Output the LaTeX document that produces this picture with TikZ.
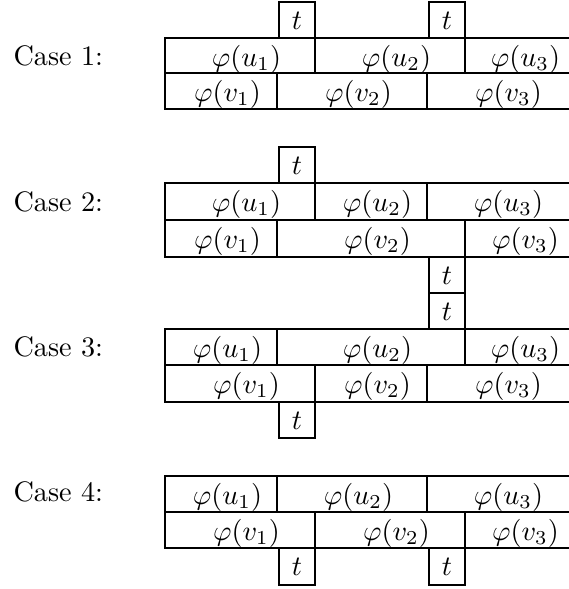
\documentclass[tikz,border=0pt]{standalone}
\tikzset{
  cellbox/.style={draw=black, line width=0.7pt},
  celltext/.style={anchor=base, inner sep=0pt},
  caselabel/.style={anchor=base west, inner sep=0pt}
}
% \cellbox{name}{x1}{y1}{x2}{y2}{text}
\newcommand{\mycell}[6]{%
  \draw[cellbox] (#2,#3) rectangle (#4,#5);
  \node[celltext] (#1) at ({(#2+#4)/2+6.5},{#3+28}) {$#6$};
}
\newcommand{\mytbox}[4]{%
  \draw[cellbox] (#2,#3) rectangle ({#2+36},#4);
  \node[celltext] (#1) at ({#2+18},{#3+27}) {$t$};
}
\begin{document}
\begin{tikzpicture}[x=0.3546pt, y=-0.3546pt]
\useasboundingbox (0,0) rectangle (569,589);
\clip (0,0) rectangle (569,589);
% Case 1
\node[caselabel] (c1) at (13,65) {Case 1:};
\mytbox{t1a}{279}{2}{38}
\mytbox{t1b}{429}{2}{38}
\mycell{u11}{165}{38}{315}{73}{\varphi(u_1)}
\mycell{u12}{315}{38}{465}{73}{\varphi(u_2)}
\mycell{u13}{465}{38}{573}{73}{\varphi(u_3)}
\mycell{v11}{165}{73}{277}{109}{\varphi(v_1)}
\mycell{v12}{277}{73}{427}{109}{\varphi(v_2)}
\mycell{v13}{427}{73}{577}{109}{\varphi(v_3)}
% Case 2
\node[caselabel] (c2) at (13,211) {Case 2:};
\mytbox{t2a}{279}{147}{183}
\mycell{u21}{165}{183}{315}{220}{\varphi(u_1)}
\mycell{u22}{315}{183}{427}{220}{\varphi(u_2)}
\mycell{u23}{427}{183}{577}{220}{\varphi(u_3)}
\mycell{v21}{165}{220}{277}{257}{\varphi(v_1)}
\mycell{v22}{277}{220}{465}{257}{\varphi(v_2)}
\mycell{v23}{465}{220}{573}{257}{\varphi(v_3)}
\mytbox{t2b}{429}{257}{293}
% Case 3
\node[caselabel] (c3) at (13,356) {Case 3:};
\mytbox{t3a}{429}{293}{329}
\mycell{u31}{165}{329}{277}{365}{\varphi(u_1)}
\mycell{u32}{277}{329}{465}{365}{\varphi(u_2)}
\mycell{u33}{465}{329}{573}{365}{\varphi(u_3)}
\mycell{v31}{165}{365}{315}{402}{\varphi(v_1)}
\mycell{v32}{315}{365}{427}{402}{\varphi(v_2)}
\mycell{v33}{427}{365}{577}{402}{\varphi(v_3)}
\mytbox{t3b}{279}{402}{438}
% Case 4
\node[caselabel] (c4) at (13,501) {Case 4:};
\mycell{u41}{165}{476}{277}{512}{\varphi(u_1)}
\mycell{u42}{277}{476}{427}{512}{\varphi(u_2)}
\mycell{u43}{427}{476}{577}{512}{\varphi(u_3)}
\mycell{v41}{165}{512}{315}{548}{\varphi(v_1)}
\mycell{v42}{315}{512}{465}{548}{\varphi(v_2)}
\mycell{v43}{465}{512}{573}{548}{\varphi(v_3)}
\mytbox{t4a}{279}{548}{585}
\mytbox{t4b}{429}{548}{585}
\end{tikzpicture}
\end{document}
